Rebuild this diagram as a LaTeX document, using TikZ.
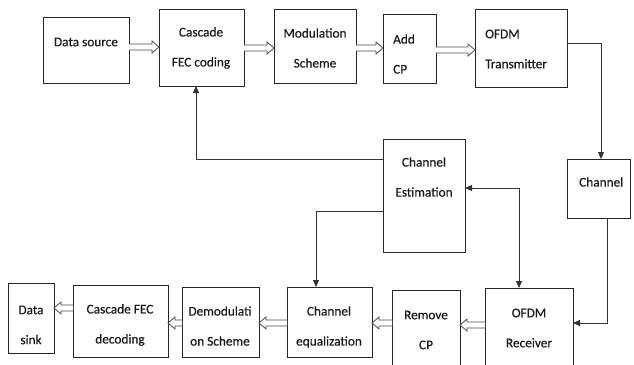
\documentclass[tikz,border=0pt]{standalone}
\usepackage{fontspec}
\setmainfont{Carlito}
\newfontfamily\lblfont{Carlito}[FakeBold=0.35]
\usetikzlibrary{arrows.meta,calc}
\tikzset{
 box/.style={draw=black!85, line width=0.9pt, outer sep=0pt, inner sep=0pt, anchor=north west},
 lbl/.style={font=\lblfont\fontsize{13.3}{30}\selectfont, inner sep=0pt, align=center, text=black!90},
 lbll/.style={font=\lblfont\fontsize{13.3}{30}\selectfont, inner sep=0pt, align=left, anchor=west, text=black!90},
 conn/.style={draw=black!80, line width=0.9pt},
 tip/.style={-{Triangle[length=7pt,width=6pt]}},
 blk/.style={draw=black!70, line width=0.8pt, fill=white, line join=miter},
}
\newcommand\blockarrow[3]{%
 \coordinate (#3h) at ($(#2)!7pt!(#1)$);
 \draw[blk] ($(#1)!3pt!90:(#2)$) -- ($(#3h)!3pt!90:(#2)$) -- ($(#3h)!6pt!90:(#2)$) -- (#2) -- ($(#3h)!6pt!-90:(#2)$) -- ($(#3h)!3pt!-90:(#2)$) -- ($(#1)!3pt!-90:(#2)$);
}
\begin{document}
\begin{tikzpicture}[x=1pt,y=-1pt]
\useasboundingbox (0,0) rectangle (634,364);
\clip (0,0) rectangle (634,364);
% top row
\node[box, minimum width=86pt, minimum height=66pt] (ds) at (43,17) {};
\node[box, minimum width=85pt, minimum height=77pt] (fec) at (159,9) {};
\node[box, minimum width=82pt, minimum height=74pt] (mod) at (274,9) {};
\node[box, minimum width=53pt, minimum height=69pt] (acp) at (383,14) {};
\node[box, minimum width=92pt, minimum height=78pt] (tx) at (475,9) {};
% middle
\node[box, minimum width=82pt, minimum height=113pt] (est) at (383,139) {};
\node[box, minimum width=63pt, minimum height=59pt] (ch) at (567,159) {};
% bottom row
\node[box, minimum width=46pt, minimum height=70pt] (sink) at (8,283) {};
\node[box, minimum width=95pt, minimum height=72pt] (fecd) at (73,285) {};
\node[box, minimum width=77pt, minimum height=70pt] (dem) at (182,287) {};
\node[box, minimum width=85pt, minimum height=70pt] (eq) at (287,287) {};
\node[box, minimum width=68pt, minimum height=80pt] (rcp) at (392,290) {};
\node[box, minimum width=88pt, minimum height=90pt] (rx) at (485,288) {};
% labels
\node[lbl] (t-ds) at (86,42) {Data source};
\node[lbl] (t-fec) at (201,48) {Cascade\\FEC coding};
\node[lbl] (t-mod) at (315,48) {Modulation\\Scheme};
\node[lbll] (t-acp) at (393,54) {Add\\CP};
\node[lbll] (t-tx) at (485,49) {OFDM\\Transmitter};
\node[lbl] (t-est) at (424,177) {Channel\\Estimation};
\node[lbll] (t-ch) at (579,182) {Channel};
\node[lbl] (t-sink) at (31,325) {Data\\sink};
\node[lbl] (t-fecd) at (120,325) {Cascade FEC\\decoding};
\node[lbl] (t-dem) at (220,326) {Demodulati\\on Scheme};
\node[lbl] (t-eq) at (329,327) {Channel\\equalization};
\node[lbl] (t-rcp) at (426,330) {Remove\\CP};
\node[lbl] (t-rx) at (529,328) {OFDM\\Receiver};
% block arrows top
\coordinate (a1s) at (ds.east |- 0,47); \coordinate (a1e) at (fec.west |- 0,47);
\blockarrow{a1s}{a1e}{a1}
\coordinate (a2s) at (fec.east |- 0,48); \coordinate (a2e) at (mod.west |- 0,48);
\blockarrow{a2s}{a2e}{a2}
\coordinate (a3s) at (mod.east |- 0,48); \coordinate (a3e) at (acp.west |- 0,48);
\blockarrow{a3s}{a3e}{a3}
\coordinate (a4s) at (acp.east |- 0,50); \coordinate (a4e) at (tx.west |- 0,50);
\blockarrow{a4s}{a4e}{a4}
% block arrows bottom
\coordinate (b1s) at (fecd.west |- 0,308); \coordinate (b1e) at (sink.east |- 0,308);
\blockarrow{b1s}{b1e}{b1}
\coordinate (b2s) at (dem.west |- 0,323); \coordinate (b2e) at (fecd.east |- 0,323);
\blockarrow{b2s}{b2e}{b2}
\coordinate (b3s) at (eq.west |- 0,323); \coordinate (b3e) at (dem.east |- 0,323);
\blockarrow{b3s}{b3e}{b3}
\coordinate (b4s) at (rcp.west |- 0,323); \coordinate (b4e) at (eq.east |- 0,323);
\blockarrow{b4s}{b4e}{b4}
\coordinate (b5s) at (rx.west |- 0,325); \coordinate (b5e) at (rcp.east |- 0,325);
\blockarrow{b5s}{b5e}{b5}
% connectors
\draw[conn, tip] (tx.east |- 0,43) -| (ch.north -| 601,0);
\draw[conn, tip] (ch.south -| 607,0) |- (rx.east |- 0,323);
\draw[conn, tip] (est.west |- 0,159) -| (fec.south -| 196,0);
\draw[conn, tip] (est.west |- 0,211) -| (eq.north -| 316,0);
\draw[conn, {Triangle[length=7pt,width=6pt]}-{Triangle[length=7pt,width=6pt]}] (est.east |- 0,188) -| (rx.north -| 519,0);
\end{tikzpicture}
\end{document}
